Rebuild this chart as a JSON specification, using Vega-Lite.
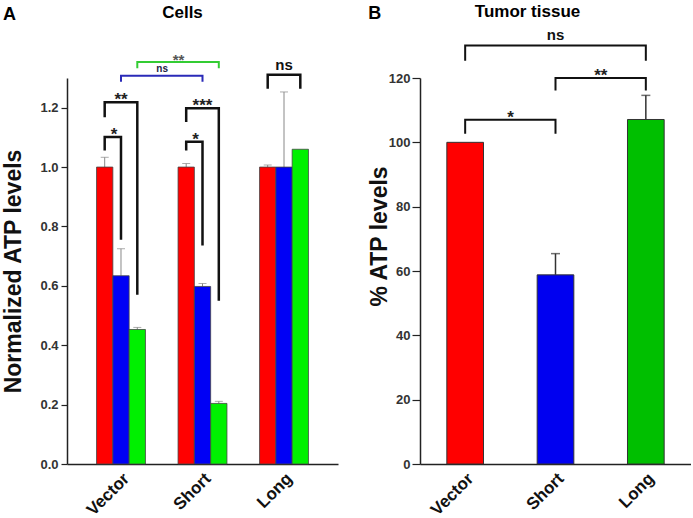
{
  "$schema": "https://vega.github.io/schema/vega-lite/v6.json",
  "padding": {"left": 2, "right": 0, "top": 2, "bottom": 0},
  "background": "white",
  "spacing": 30,
  "resolve": {"scale": {"color": "independent"}},
  "datasets": {
    "cells": [
      {"group": "Vector", "series": "red", "value": 1.0, "err": 1.033},
      {"group": "Vector", "series": "blue", "value": 0.634, "err": 0.725},
      {"group": "Vector", "series": "green", "value": 0.453, "err": 0.46},
      {"group": "Short", "series": "red", "value": 1.0, "err": 1.012},
      {"group": "Short", "series": "blue", "value": 0.598, "err": 0.608},
      {"group": "Short", "series": "green", "value": 0.204, "err": 0.211},
      {"group": "Long", "series": "red", "value": 1.0, "err": 1.007},
      {"group": "Long", "series": "blue", "value": 1.0, "err": 1.253},
      {"group": "Long", "series": "green", "value": 1.06, "err": null}
    ],
    "cellsBrackets": [
      {"id": "V-rb", "kind": "within", "ord": 1, "group": "Vector", "series": "red", "value": 1.056},
      {"id": "V-rb", "kind": "within", "ord": 2, "group": "Vector", "series": "red", "value": 1.101},
      {"id": "V-rb", "kind": "within", "ord": 3, "group": "Vector", "series": "blue", "value": 1.101},
      {"id": "V-rb", "kind": "within", "ord": 4, "group": "Vector", "series": "blue", "value": 0.755},
      {"id": "V-rg", "kind": "within", "ord": 1, "group": "Vector", "series": "red", "value": 1.168},
      {"id": "V-rg", "kind": "within", "ord": 2, "group": "Vector", "series": "red", "value": 1.218},
      {"id": "V-rg", "kind": "within", "ord": 3, "group": "Vector", "series": "green", "value": 1.218},
      {"id": "V-rg", "kind": "within", "ord": 4, "group": "Vector", "series": "green", "value": 0.57},
      {"id": "S-rb", "kind": "within", "ord": 1, "group": "Short", "series": "red", "value": 1.056},
      {"id": "S-rb", "kind": "within", "ord": 2, "group": "Short", "series": "red", "value": 1.085},
      {"id": "S-rb", "kind": "within", "ord": 3, "group": "Short", "series": "blue", "value": 1.085},
      {"id": "S-rb", "kind": "within", "ord": 4, "group": "Short", "series": "blue", "value": 0.736},
      {"id": "S-rg", "kind": "within", "ord": 1, "group": "Short", "series": "red", "value": 1.152},
      {"id": "S-rg", "kind": "within", "ord": 2, "group": "Short", "series": "red", "value": 1.198},
      {"id": "S-rg", "kind": "within", "ord": 3, "group": "Short", "series": "green", "value": 1.198},
      {"id": "S-rg", "kind": "within", "ord": 4, "group": "Short", "series": "green", "value": 0.55},
      {"id": "L-rg", "kind": "within", "ord": 1, "group": "Long", "series": "red", "value": 1.264},
      {"id": "L-rg", "kind": "within", "ord": 2, "group": "Long", "series": "red", "value": 1.311},
      {"id": "L-rg", "kind": "within", "ord": 3, "group": "Long", "series": "green", "value": 1.311},
      {"id": "L-rg", "kind": "within", "ord": 4, "group": "Long", "series": "green", "value": 1.264},
      {"id": "VS-b", "kind": "blue", "ord": 1, "group": "Vector", "series": "blue", "value": 1.287},
      {"id": "VS-b", "kind": "blue", "ord": 2, "group": "Vector", "series": "blue", "value": 1.308},
      {"id": "VS-b", "kind": "blue", "ord": 3, "group": "Short", "series": "blue", "value": 1.308},
      {"id": "VS-b", "kind": "blue", "ord": 4, "group": "Short", "series": "blue", "value": 1.287},
      {"id": "VS-g", "kind": "green", "ord": 1, "group": "Vector", "series": "green", "value": 1.333},
      {"id": "VS-g", "kind": "green", "ord": 2, "group": "Vector", "series": "green", "value": 1.354},
      {"id": "VS-g", "kind": "green", "ord": 3, "group": "Short", "series": "green", "value": 1.354},
      {"id": "VS-g", "kind": "green", "ord": 4, "group": "Short", "series": "green", "value": 1.333}
    ],
    "cellsLabels": [
      {"id": "V-rb", "text": "*", "group": "Vector", "series": "blue", "value": 1.101},
      {"id": "V-rg", "text": "**", "group": "Vector", "series": "blue", "value": 1.218},
      {"id": "S-rb", "text": "*", "group": "Short", "series": "blue", "value": 1.085},
      {"id": "S-rg", "text": "***", "group": "Short", "series": "blue", "value": 1.198},
      {"id": "L-rg", "text": "ns", "group": "Long", "series": "blue", "value": 1.311},
      {"id": "VS-b", "text": "ns", "group": "Short", "series": "red", "value": 1.308},
      {"id": "VS-g", "text": "**", "group": "Short", "series": "blue", "value": 1.354}
    ],
    "tumor": [
      {"group": "Vector", "value": 100, "err": null},
      {"group": "Short", "value": 58.8, "err": 65.4},
      {"group": "Long", "value": 107.1, "err": 114.6}
    ],
    "tumorBrackets": [
      {"id": "VS", "ord": 1, "group": "Vector", "value": 102.7},
      {"id": "VS", "ord": 2, "group": "Vector", "value": 107.0},
      {"id": "VS", "ord": 3, "group": "Short", "value": 107.0},
      {"id": "VS", "ord": 4, "group": "Short", "value": 102.7},
      {"id": "SL", "ord": 1, "group": "Short", "value": 116.1},
      {"id": "SL", "ord": 2, "group": "Short", "value": 120.0},
      {"id": "SL", "ord": 3, "group": "Long", "value": 120.0},
      {"id": "SL", "ord": 4, "group": "Long", "value": 116.1},
      {"id": "VL", "ord": 1, "group": "Vector", "value": 125.4},
      {"id": "VL", "ord": 2, "group": "Vector", "value": 130.1},
      {"id": "VL", "ord": 3, "group": "Long", "value": 130.1},
      {"id": "VL", "ord": 4, "group": "Long", "value": 125.4}
    ],
    "tumorLabels": [
      {"id": "VS", "text": "*", "group": "Short", "value": 107.0},
      {"id": "SL", "text": "**", "group": "Long", "value": 120.0},
      {"id": "VL", "text": "ns", "group": "Short", "value": 130.1}
    ]
  },
  "hconcat": [
    {
      "title": {"text": "A", "anchor": "start", "fontSize": 18, "font": "Liberation Sans", "fontWeight": "bold", "offset": 0, "dy": 20},
      "vconcat": [
        {
          "title": {"text": "Cells", "fontSize": 17, "font": "Liberation Sans", "fontWeight": "bold", "dx": -20, "offset": 31},
          "width": 271,
          "height": 386,
          "encoding": {
            "x": {"field": "group", "type": "nominal", "sort": ["Vector", "Short", "Long"], "title": null,
                  "scale": {"type": "band", "paddingInner": 0.4, "paddingOuter": 0.3625},
                  "axis": {"labelAngle": -45, "labelAlign": "right", "labelBaseline": "top"}},
            "xOffset": {"field": "series", "type": "nominal", "sort": ["red", "blue", "green"], "scale": {"domain": ["red", "blue", "green"], "paddingInner": 0, "paddingOuter": 0}},
            "y": {"field": "value", "type": "quantitative", "scale": {"domain": [0, 1.3], "nice": false},
                  "axis": {"values": [0, 0.2, 0.4, 0.6, 0.8, 1.0, 1.2], "format": ".1f", "title": "Normalized ATP levels", "titlePadding": 14, "tickSize": 6, "labelPadding": 3}}
          },
          "layer": [
            {
              "data": {"name": "cells"},
              "transform": [{"filter": "datum.err != null"}],
              "mark": {"type": "rule", "color": "#888888", "strokeWidth": 1},
              "encoding": {"y2": {"field": "err"}}
            },
            {
              "data": {"name": "cells"},
              "transform": [{"filter": "datum.err != null"}],
              "mark": {"type": "tick", "color": "#888888", "thickness": 1, "size": 8, "orient": "horizontal"},
              "encoding": {"y": {"field": "err", "type": "quantitative"}}
            },
            {
              "data": {"name": "cells"},
              "mark": {"type": "bar", "stroke": "#444444", "strokeWidth": 0.8},
              "encoding": {
                "color": {"field": "series", "type": "nominal", "legend": null,
                          "scale": {"domain": ["red", "blue", "green"], "range": ["#ff0000", "#0000f5", "#00f000"]}}
              }
            },
            {
              "data": {"name": "cellsBrackets"},
              "transform": [{"filter": "datum.kind == 'within'"}],
              "mark": {"type": "line", "color": "#111111", "strokeWidth": 2.5, "strokeJoin": "miter", "strokeCap": "butt"},
              "encoding": {"detail": {"field": "id"}, "order": {"field": "ord"}}
            },
            {
              "data": {"name": "cellsBrackets"},
              "transform": [{"filter": "datum.kind == 'blue'"}],
              "mark": {"type": "line", "color": "#2a2ab8", "strokeWidth": 2, "strokeJoin": "miter", "strokeCap": "butt"},
              "encoding": {"detail": {"field": "id"}, "order": {"field": "ord"}}
            },
            {
              "data": {"name": "cellsBrackets"},
              "transform": [{"filter": "datum.kind == 'green'"}],
              "mark": {"type": "line", "color": "#33cc33", "strokeWidth": 2, "strokeJoin": "miter", "strokeCap": "butt"},
              "encoding": {"detail": {"field": "id"}, "order": {"field": "ord"}}
            },
            {
              "data": {"name": "cellsLabels"},
              "transform": [{"filter": "datum.id == 'V-rg' || datum.id == 'S-rg'"}],
              "mark": {"type": "text", "font": "Liberation Sans", "fontSize": 17, "fontWeight": "bold", "color": "#222222", "baseline": "alphabetic", "dy": 3},
              "encoding": {"text": {"field": "text"}}
            },
            {
              "data": {"name": "cellsLabels"},
              "transform": [{"filter": "datum.id == 'V-rb' || datum.id == 'S-rb'"}],
              "mark": {"type": "text", "font": "Liberation Sans", "fontSize": 17, "fontWeight": "bold", "color": "#222222", "baseline": "alphabetic", "dy": 3, "dx": -7},
              "encoding": {"text": {"field": "text"}}
            },
            {
              "data": {"name": "cellsLabels"},
              "transform": [{"filter": "datum.id == 'L-rg'"}],
              "mark": {"type": "text", "font": "Liberation Sans", "fontSize": 15, "fontWeight": "bold", "color": "#111111", "baseline": "alphabetic", "dy": -5},
              "encoding": {"text": {"field": "text"}}
            },
            {
              "data": {"name": "cellsLabels"},
              "transform": [{"filter": "datum.id == 'VS-b'"}],
              "mark": {"type": "text", "font": "Liberation Sans", "fontSize": 10, "fontWeight": "bold", "color": "#222244", "baseline": "alphabetic", "dy": -4, "dx": -24},
              "encoding": {"text": {"field": "text"}}
            },
            {
              "data": {"name": "cellsLabels"},
              "transform": [{"filter": "datum.id == 'VS-g'"}],
              "mark": {"type": "text", "font": "Liberation Sans", "fontSize": 15, "fontWeight": "bold", "color": "#555555", "baseline": "alphabetic", "dy": 3, "dx": -24},
              "encoding": {"text": {"field": "text"}}
            }
          ]
        }
      ]
    },
    {
      "title": {"text": "B", "anchor": "start", "fontSize": 18, "font": "Liberation Sans", "fontWeight": "bold", "offset": 0, "dy": 20},
      "vconcat": [
        {
          "title": {"text": "Tumor tissue", "fontSize": 17, "font": "Liberation Sans", "fontWeight": "bold", "dx": -28, "offset": 7},
          "width": 271,
          "height": 386,
          "encoding": {
            "x": {"field": "group", "type": "nominal", "sort": ["Vector", "Short", "Long"], "title": null,
                  "scale": {"type": "band", "paddingInner": 0.594, "paddingOuter": 0.297},
                  "axis": {"labelAngle": -45, "labelAlign": "right", "labelBaseline": "top"}},
            "y": {"field": "value", "type": "quantitative", "scale": {"domain": [0, 120], "nice": false},
                  "axis": {"values": [0, 20, 40, 60, 80, 100, 120], "title": "% ATP levels", "titlePadding": -3, "tickSize": 8, "labelPadding": 2, "titleY": 158}}
          },
          "layer": [
            {
              "data": {"name": "tumor"},
              "transform": [{"filter": "datum.err != null"}],
              "mark": {"type": "rule", "color": "#333333", "strokeWidth": 1.5},
              "encoding": {"y2": {"field": "err"}}
            },
            {
              "data": {"name": "tumor"},
              "transform": [{"filter": "datum.err != null"}],
              "mark": {"type": "tick", "color": "#333333", "thickness": 1.5, "size": 9, "orient": "horizontal"},
              "encoding": {"y": {"field": "err", "type": "quantitative"}}
            },
            {
              "data": {"name": "tumor"},
              "mark": {"type": "bar", "stroke": "#333333", "strokeWidth": 1},
              "encoding": {
                "color": {"field": "group", "type": "nominal", "legend": null,
                          "scale": {"domain": ["Vector", "Short", "Long"], "range": ["#ff0000", "#0000f0", "#00bf00"]}}
              }
            },
            {
              "data": {"name": "tumorBrackets"},
              "mark": {"type": "line", "color": "#111111", "strokeWidth": 2, "strokeJoin": "miter", "strokeCap": "butt"},
              "encoding": {"detail": {"field": "id"}, "order": {"field": "ord"}}
            },
            {
              "data": {"name": "tumorLabels"},
              "transform": [{"filter": "datum.id != 'VL'"}],
              "mark": {"type": "text", "font": "Liberation Sans", "fontSize": 17, "fontWeight": "bold", "color": "#222222", "baseline": "alphabetic", "dy": 3, "dx": -45},
              "encoding": {"text": {"field": "text"}}
            },
            {
              "data": {"name": "tumorLabels"},
              "transform": [{"filter": "datum.id == 'VL'"}],
              "mark": {"type": "text", "font": "Liberation Sans", "fontSize": 15, "fontWeight": "bold", "color": "#111111", "baseline": "alphabetic", "dy": -6},
              "encoding": {"text": {"field": "text"}}
            }
          ]
        }
      ]
    }
  ],
  "config": {
    "view": {"stroke": null},
    "axis": {"domainColor": "#222222", "domainWidth": 1.5, "tickColor": "#222222", "tickWidth": 1.2,
             "labelFont": "Liberation Sans", "labelFontWeight": "bold", "labelColor": "#333333", "labelFontSize": 13,
             "titleFont": "Liberation Sans", "titleFontWeight": "bold", "titleFontSize": 23, "titleColor": "#111111", "grid": false},
    "axisX": {"ticks": false, "labelFontSize": 17, "labelColor": "#111111", "labelPadding": 6}
  }
}
